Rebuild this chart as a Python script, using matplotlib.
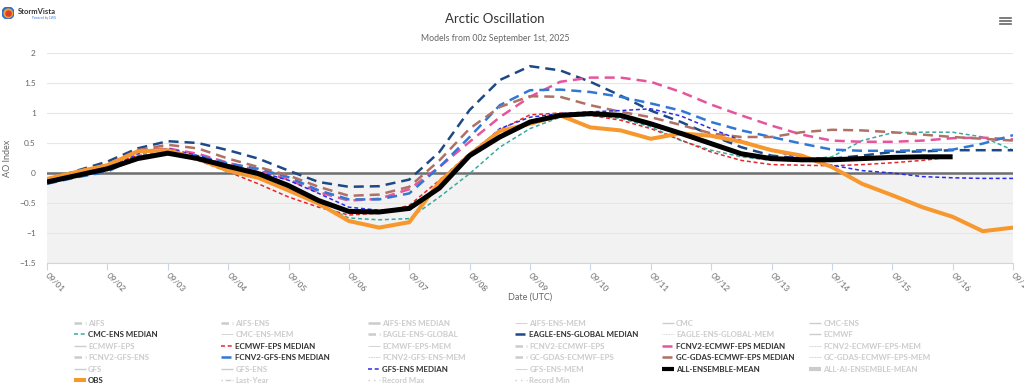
import matplotlib
matplotlib.use("Agg")
import matplotlib.pyplot as plt
import numpy as np
import pandas as pd
from matplotlib.lines import Line2D
from matplotlib.patches import Circle

plt.rcParams['font.family'] = ['Lato', 'DejaVu Sans']

# ---------------- data (12-hourly, 09/01 00z .. 09/17 00z) ----------------
times = pd.date_range("2025-09-01", "2025-09-17", freq="12h")
day_ticks = pd.date_range("2025-09-01", "2025-09-17", freq="D")
tick_labels = [d.strftime("%m/%d") for d in day_ticks]
yticks = [-1.5, -1, -0.5, 0, 0.5, 1, 1.5, 2]

cmc_ens_median = [-0.18, -0.06, 0.07, 0.29, 0.38, 0.27, 0.10, -0.04, -0.23, -0.51, -0.75,
                  -0.78, -0.76, -0.40, -0.01, 0.43, 0.74, 0.93, 0.96, 0.91, 0.77, 0.54,
                  0.38, 0.27, 0.21, 0.22, 0.27, 0.54, 0.67, 0.68, 0.68, 0.60, 0.38]
eagle_median = [-0.12, 0.04, 0.19, 0.41, 0.53, 0.50, 0.38, 0.24, 0.04, -0.15, -0.23,
                -0.22, -0.11, 0.35, 1.05, 1.55, 1.78, 1.71, 1.52, 1.29, 1.04, 0.85,
                0.63, 0.43, 0.29, 0.24, 0.24, 0.29, 0.35, 0.36, 0.38, 0.38, 0.38]
ecmwf_eps_median = [-0.09, 0.03, 0.13, 0.29, 0.33, 0.21, 0.02, -0.18, -0.40, -0.57, -0.70,
                    -0.67, -0.54, -0.12, 0.33, 0.72, 0.97, 1.00, 0.96, 0.88, 0.74, 0.55,
                    0.35, 0.21, 0.14, 0.13, 0.12, 0.14, 0.17, 0.21, 0.27]
fcnv2_ecmwf_median = [-0.12, 0.02, 0.11, 0.38, 0.41, 0.32, 0.17, 0.04, -0.11, -0.32, -0.46,
                      -0.43, -0.27, 0.10, 0.52, 0.93, 1.27, 1.52, 1.59, 1.59, 1.52, 1.35,
                      1.14, 0.96, 0.79, 0.64, 0.54, 0.52, 0.52, 0.54, 0.58, 0.59, 0.56]
fcnv2_gfs_median = [-0.18, -0.07, 0.02, 0.27, 0.32, 0.29, 0.16, 0.07, -0.07, -0.29, -0.44,
                    -0.44, -0.34, 0.10, 0.60, 1.13, 1.38, 1.39, 1.35, 1.27, 1.16, 1.04,
                    0.85, 0.71, 0.60, 0.49, 0.39, 0.37, 0.37, 0.38, 0.39, 0.49, 0.63]
gc_gdas_median = [-0.12, 0.02, 0.14, 0.38, 0.47, 0.41, 0.24, 0.10, -0.04, -0.23, -0.38,
                  -0.36, -0.23, 0.21, 0.74, 1.10, 1.28, 1.27, 1.13, 1.02, 0.93, 0.80,
                  0.66, 0.60, 0.60, 0.68, 0.72, 0.71, 0.68, 0.64, 0.60, 0.57, 0.54]
gfs_ens_median = [-0.15, -0.04, 0.07, 0.32, 0.41, 0.29, 0.13, 0.02, -0.12, -0.34, -0.57,
                  -0.62, -0.62, -0.26, 0.29, 0.74, 0.93, 0.99, 1.02, 1.04, 1.07, 0.95,
                  0.74, 0.54, 0.38, 0.24, 0.13, 0.04, 0.00, -0.06, -0.08, -0.09, -0.09]
all_ensemble_mean = [-0.15, -0.04, 0.07, 0.24, 0.33, 0.24, 0.11, -0.01, -0.21, -0.46, -0.64,
                     -0.65, -0.59, -0.25, 0.29, 0.60, 0.85, 0.96, 0.99, 0.96, 0.82, 0.66,
                     0.49, 0.32, 0.24, 0.22, 0.22, 0.24, 0.26, 0.27, 0.27]
obs = [-0.10, 0.02, 0.13, 0.36, 0.38, 0.24, 0.04, -0.08, -0.29, -0.51, -0.80,
       -0.91, -0.82, -0.15, 0.30, 0.70, 0.82, 0.96, 0.76, 0.71, 0.57, 0.66,
       0.62, 0.52, 0.38, 0.29, 0.10, -0.18, -0.37, -0.57, -0.73, -0.97, -0.91]

legend_names = [
    "AIFS", "AIFS-ENS", "AIFS-ENS MEDIAN", "AIFS-ENS-MEM", "CMC", "CMC-ENS",
    "CMC-ENS MEDIAN", "CMC-ENS-MEM", "EAGLE-ENS-GLOBAL", "EAGLE-ENS-GLOBAL MEDIAN",
    "EAGLE-ENS-GLOBAL-MEM", "ECMWF",
    "ECMWF-EPS", "ECMWF-EPS MEDIAN", "ECMWF-EPS-MEM", "FCNV2-ECMWF-EPS",
    "FCNV2-ECMWF-EPS MEDIAN", "FCNV2-ECMWF-EPS-MEM",
    "FCNV2-GFS-ENS", "FCNV2-GFS-ENS MEDIAN", "FCNV2-GFS-ENS-MEM", "GC-GDAS-ECMWF-EPS",
    "GC-GDAS-ECMWF-EPS MEDIAN", "GC-GDAS-ECMWF-EPS-MEM",
    "GFS", "GFS-ENS", "GFS-ENS MEDIAN", "GFS-ENS-MEM", "ALL-ENSEMBLE-MEAN",
    "ALL-AI-ENSEMBLE-MEAN",
    "OBS", "Last-Year", "Record Max", "Record Min",
]

# ---------------- styles ----------------
LONG = (4.0, 2.4)
SHORT = (2.6, 1.8)
styles = {
    "CMC-ENS MEDIAN": dict(color="#3aa99f", lw=1.1, dashes=SHORT, z=3),
    "EAGLE-ENS-GLOBAL MEDIAN": dict(color="#1d4a87", lw=1.8, dashes=LONG, z=3),
    "ECMWF-EPS MEDIAN": dict(color="#e8262a", lw=1.1, dashes=SHORT, z=3),
    "FCNV2-ECMWF-EPS MEDIAN": dict(color="#e6559b", lw=1.8, dashes=LONG, z=3),
    "FCNV2-GFS-ENS MEDIAN": dict(color="#2f78d6", lw=1.8, dashes=LONG, z=3),
    "GC-GDAS-ECMWF-EPS MEDIAN": dict(color="#b07064", lw=1.8, dashes=LONG, z=3),
    "GFS-ENS MEDIAN": dict(color="#2a2ae8", lw=1.1, dashes=SHORT, z=3),
    "ALL-ENSEMBLE-MEAN": dict(color="#000000", lw=3.6, dashes=None, z=6),
    "OBS": dict(color="#f7982e", lw=2.9, dashes=None, z=5),
}
series = {
    "CMC-ENS MEDIAN": cmc_ens_median,
    "EAGLE-ENS-GLOBAL MEDIAN": eagle_median,
    "ECMWF-EPS MEDIAN": ecmwf_eps_median,
    "FCNV2-ECMWF-EPS MEDIAN": fcnv2_ecmwf_median,
    "FCNV2-GFS-ENS MEDIAN": fcnv2_gfs_median,
    "GC-GDAS-ECMWF-EPS MEDIAN": gc_gdas_median,
    "GFS-ENS MEDIAN": gfs_ens_median,
    "OBS": obs,
    "ALL-ENSEMBLE-MEAN": all_ensemble_mean,
}

W, H = 1024, 388
fig = plt.figure(figsize=(W / 100, H / 100), dpi=100)
ax = fig.add_axes([47 / W, 1 - 263 / H, 966 / W, 210 / H])

ax.set_ylim(-1.5, 2)
ax.set_xlim(times[0], times[-1])
ax.axhspan(-1.5, 0, color="#f2f2f2", lw=0, zorder=0)
ax.set_yticks(yticks)
ax.set_yticklabels([("%g" % v).replace("-", "\u2212") for v in yticks])
ax.grid(axis="y", color="#e6e6e6", lw=0.8)
ax.set_axisbelow(True)
ax.axhline(0, color="#6e6e6e", lw=1.8, zorder=1)

for name, vals in series.items():
    st = styles[name]
    ln, = ax.plot(times[:len(vals)], vals, color=st["color"], lw=st["lw"],
                  zorder=st["z"], solid_capstyle="butt", dash_capstyle="butt",
                  solid_joinstyle="round", label=name)
    if st["dashes"]:
        ln.set_dashes(st["dashes"])

for s in ["top", "right", "left"]:
    ax.spines[s].set_visible(False)
ax.spines["bottom"].set_color("#ccd6eb")
ax.spines["bottom"].set_linewidth(0.8)

ax.set_xticks(day_ticks)
ax.set_xticklabels(tick_labels)
ax.tick_params(axis="x", length=5, width=0.8, color="#ccd6eb", labelsize=6,
               labelcolor="#666666", pad=3)
ax.tick_params(axis="y", length=0, labelsize=6, labelcolor="#666666", pad=8)
for lab in ax.get_xticklabels():
    lab.set_rotation(-45)
    lab.set_ha("left")
    lab.set_va("center")
    lab.set_rotation_mode("anchor")

ax.set_ylabel("AO Index", fontsize=6.5, color="#666666")
ax.yaxis.set_label_coords((12 - 47) / 966, 0.5)
fig.text(530 / W, 1 - 297 / H, "Date (UTC)", ha="center", va="center",
         fontsize=6.5, color="#666666")

# title / subtitle
fig.text(495 / W, 1 - 19 / H, "Arctic Oscillation", ha="center", va="center",
         fontsize=9.5, color="#333333")
fig.text(495 / W, 1 - 38.5 / H, "Models from 00z September 1st, 2025", ha="center",
         va="center", fontsize=6.3, color="#666666")

# hamburger menu
for yy in (17.7, 21, 24.3):
    fig.add_artist(Line2D([1000 / W, 1011 / W], [1 - yy / H] * 2, color="#666666",
                          lw=1.2, transform=fig.transFigure))

# logo
logo_ax = fig.add_axes([2 / W, 1 - 19 / H, 12 / W, 12 / H])
logo_ax.set_xlim(-1, 1); logo_ax.set_ylim(-1, 1); logo_ax.set_aspect("equal")
logo_ax.axis("off")
logo_ax.add_patch(Circle((0, 0), 1, color="#2d6fd0"))
logo_ax.add_patch(Circle((0.05, -0.05), 0.7, color="#f0a030"))
logo_ax.add_patch(Circle((0.1, -0.1), 0.42, color="#e03a2a"))
fig.text(18 / W, 1 - 12 / H, "StormVista", ha="left", va="center", fontsize=5.5,
         fontweight="bold", color="#333333")
fig.text(32 / W, 1 - 18.3 / H, "Powered by CWG", ha="left", va="center", fontsize=2.2,
         color="#2a7ad0")

# ---------------- legend (6 columns, row-major order) ----------------
hidden_styles = {
    "AIFS": (1.8, (3, 1.5, 1, 1.5)), "AIFS-ENS": (1.8, (3, 1.5, 1, 1.5)),
    "AIFS-ENS MEDIAN": (1.8, None), "AIFS-ENS-MEM": (0.6, None), "CMC": (1.0, None),
    "CMC-ENS": (1.0, None), "CMC-ENS-MEM": (0.6, None),
    "EAGLE-ENS-GLOBAL": (1.8, (3, 1.5, 1, 1.5)), "EAGLE-ENS-GLOBAL-MEM": (0.6, (1, 1)),
    "ECMWF": (1.0, None), "ECMWF-EPS": (1.0, None), "ECMWF-EPS-MEM": (0.6, None),
    "FCNV2-ECMWF-EPS": (1.8, (3, 1.5, 1, 1.5)), "FCNV2-ECMWF-EPS-MEM": (0.6, (2, 1)),
    "FCNV2-GFS-ENS": (1.8, (3, 1.5, 1, 1.5)), "FCNV2-GFS-ENS-MEM": (0.6, (2, 1)),
    "GC-GDAS-ECMWF-EPS": (1.8, (3, 1.5, 1, 1.5)), "GC-GDAS-ECMWF-EPS-MEM": (0.6, (2, 1)),
    "GFS": (1.0, None), "GFS-ENS": (1.0, None), "GFS-ENS-MEM": (0.6, None),
    "ALL-AI-ENSEMBLE-MEAN": (3.0, None), "Last-Year": (1.0, (1, 2, 4, 1)),
    "Record Max": (1.0, (1, 3)), "Record Min": (1.0, (1, 3)),
}
col_x = [74, 221, 368, 515, 662, 809]
ncols = 6
for c in range(ncols):
    handles, labels, colors = [], [], []
    for name in legend_names[c::ncols]:
        if name in styles:
            st = styles[name]
            lw = min(st["lw"], 3.0) if name in ("OBS", "ALL-ENSEMBLE-MEAN") else st["lw"]
            h = Line2D([], [], color=st["color"], lw=lw, solid_capstyle="butt")
            if st["dashes"]:
                h.set_dashes(st["dashes"])
            colors.append("#333333")
        else:
            lw, d = hidden_styles[name]
            h = Line2D([], [], color="#cccccc", lw=lw, solid_capstyle="butt")
            if d:
                h.set_dashes(d)
            colors.append("#cccccc")
        handles.append(h)
        labels.append(name)
    fig.legend(handles, labels, loc="upper left",
               bbox_to_anchor=(col_x[c] / W, 1 - 319.5 / H), frameon=False,
               prop=dict(size=5.7, weight="bold"), labelcolor=colors,
               handlelength=1.5, handletextpad=0.3, labelspacing=0.57,
               borderpad=0, borderaxespad=0)

fig.savefig("out.png", dpi=100)
